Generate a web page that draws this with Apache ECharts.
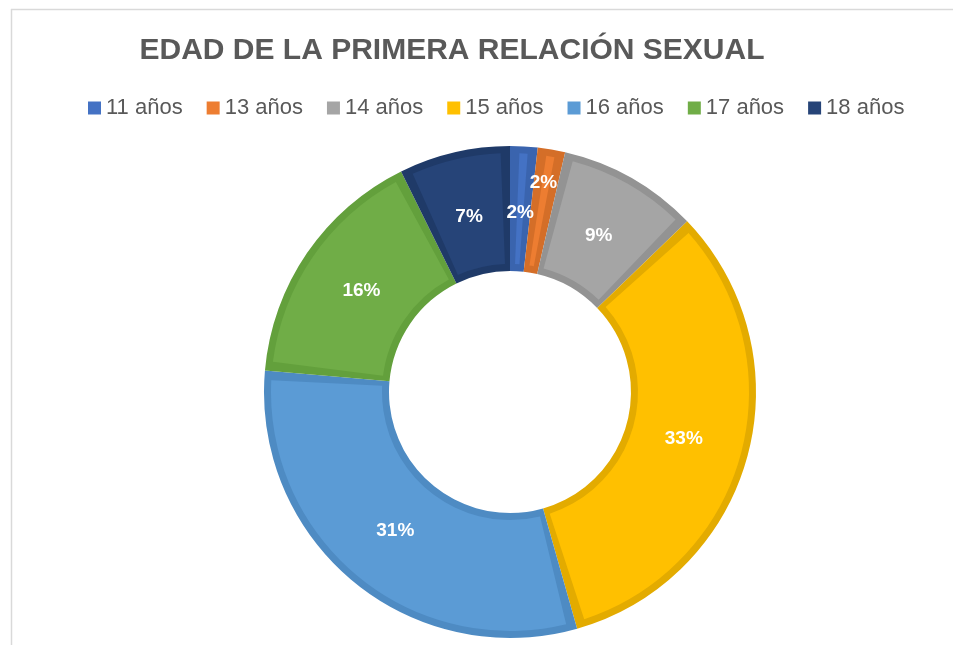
<!DOCTYPE html>
<html>
<head>
<meta charset="utf-8">
<script src="https://cdn.jsdelivr.net/npm/echarts@6/dist/echarts.min.js"></script>
<style>
    html, body { margin: 0; padding: 0; background: #fff; }
    #main { width: 953px; height: 645px; }
</style>
</head>
<body>
<div id="main"></div>
<script>
// data (share of respondents, %)
var categories = ['11 años', '13 años', '14 años', '15 años', '16 años', '17 años', '18 años'];
var values = [1.8, 1.8, 9.2, 32.8, 30.8, 16.3, 7.3];
var faceColors = ['#4472C4', '#ED7D31', '#A5A5A5', '#FFC000', '#5B9BD5', '#70AD47', '#264478'];
var edgeColors = ['#3a64ae', '#d46e28', '#939393', '#e3ab00', '#4e8bc3', '#63a03c', '#1f3a68'];
var titleText = 'EDAD DE LA PRIMERA RELACIÓN SEXUAL';

function chart() {
    var myChart = echarts.init(document.getElementById('main'));

    var faceData = categories.map(function (name, i) {
        return { name: name, value: values[i], itemStyle: { color: faceColors[i] } };
    });
    var edgeData = categories.map(function (name, i) {
        return { name: name, value: values[i], itemStyle: { color: edgeColors[i] } };
    });
    var labelData = categories.map(function (name, i) {
        return { name: name, value: values[i] };
    });

    var option = {
        animation: false,
        title: {
            text: titleText,
            left: 447,
            textAlign: 'center',
            top: 31,
            textStyle: {
                fontFamily: 'Liberation Sans',
                fontWeight: 'bold',
                fontSize: 30,
                color: '#595959'
            }
        },
        legend: {
            top: 92,
            left: 83,
            itemWidth: 13,
            itemHeight: 13,
            itemGap: 24,
            icon: 'rect',
            data: categories.map(function (name, i) {
                return { name: name, itemStyle: { color: faceColors[i] } };
            }),
            textStyle: {
                fontFamily: 'Liberation Sans',
                fontSize: 22,
                color: '#595959'
            }
        },
        graphic: [{
            type: 'line',
            shape: { x1: 11.5, y1: 9, x2: 11.5, y2: 645 },
            style: { stroke: '#d9d9d9', lineWidth: 1.5 }
        }, {
            type: 'line',
            shape: { x1: 11, y1: 9.5, x2: 953, y2: 9.5 },
            style: { stroke: '#d9d9d9', lineWidth: 1.5 }
        }],
        series: [{
            // darker rim behind each slice
            name: 'rim',
            type: 'pie',
            z: 1,
            center: [510, 392],
            radius: [121, 246],
            startAngle: 90,
            silent: true,
            label: { show: false },
            labelLine: { show: false },
            data: edgeData
        }, {
            name: 'face',
            type: 'pie',
            z: 2,
            center: [510, 392],
            radius: [128, 239],
            startAngle: 90,
            padAngle: 4.5,
            silent: true,
            label: { show: false },
            labelLine: { show: false },
            data: faceData
        }, {
            // transparent ring that only carries the percentage labels
            name: 'labels',
            type: 'pie',
            z: 3,
            center: [510, 392],
            radius: [114, 240],
            startAngle: 90,
            silent: true,
            itemStyle: { color: 'rgba(0,0,0,0)' },
            label: {
                show: true,
                position: 'inside',
                color: '#fff',
                fontFamily: 'Liberation Sans',
                fontWeight: 'bold',
                fontSize: 19,
                formatter: function (p) {
                    return Math.round(p.percent) + '%';
                }
            },
            labelLine: { show: false },
            labelLayout: function (params) {
                // Excel pushed the second small label outward
                if (params.dataIndex === 1) {
                    return { dx: 3, dy: -32 };
                }
            },
            data: labelData
        }]
    };
    myChart.setOption(option);
}
chart();
</script>
</body>
</html>
